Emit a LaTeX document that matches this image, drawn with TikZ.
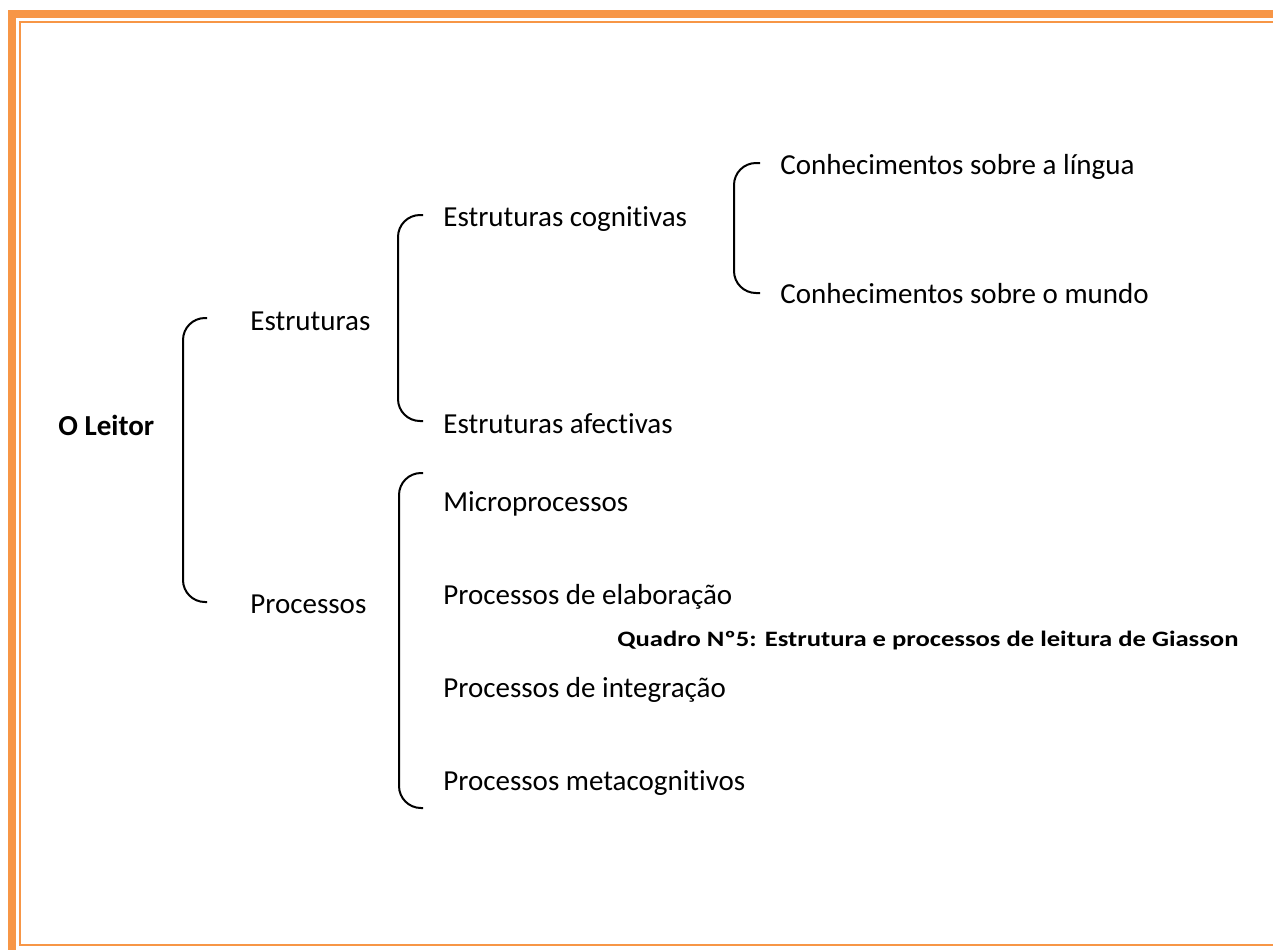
\documentclass[tikz,border=0pt]{standalone}
\usepackage{fontspec}
\setmainfont{Carlito}[Ligatures=NoCommon]
\definecolor{framecol}{HTML}{F79646}
\tikzset{
    item/.style={anchor=base west, inner sep=0pt, font=\fontsize{14.5pt}{17pt}\selectfont},
    bracket/.style={line width=1pt, rounded corners=11pt},
}
\begin{document}
\begin{tikzpicture}[x=5pt, y=-5pt]
                \useasboundingbox (0, 0) rectangle (127.3, 94.9);
                \clip (0, 0) rectangle (127.3, 94.9);

                %%frame
                \draw[framecol, line width=4pt](1.2, 1.4) rectangle (131, 96);
                \draw[framecol, line width=1pt](2.0, 2.2) rectangle (129, 94.5);

                %%reader
                \node[item, font=\fontsize{14.5pt}{17pt}\selectfont\bfseries] (leitor) at (5.8, 43.5){O Leitor};
                    \coordinate (b1t) at (20.7, 31.8);
                    \coordinate (b1c) at (18.3, 46);
                    \coordinate (b1b) at (20.7, 60.2);
                    \draw[bracket](b1t) -| (b1c) |- (b1b);
                    \node[item] (estr) at (25.0, 33.0){Estruturas};
                    \node[item] (proc) at (25.0, 61.3){Processos};

                %%upper subtree
                    \coordinate (b2t) at (42.3, 21.5);
                    \coordinate (b2c) at (39.8, 32);
                    \coordinate (b2b) at (42.3, 42.1);
                    \draw[bracket](b2t) -| (b2c) |- (b2b);
                        \node[item] (cogn) at (44.3, 22.6){Estruturas cognitivas};
                        \node[item] (afec) at (44.3, 43.3){Estruturas afectivas};

                    \coordinate (b3t) at (76.0, 16.3);
                    \coordinate (b3c) at (73.4, 23);
                    \coordinate (b3b) at (76.0, 29.3);
                    \draw[bracket](b3t) -| (b3c) |- (b3b);
                        \node[item] (lingua) at (78.0, 17.4){Conhecimentos sobre a língua};
                        \node[item] (mundo) at (78.0, 30.3){Conhecimentos sobre o mundo};

                %%lower subtree
                    \coordinate (b4t) at (42.3, 47.3);
                    \coordinate (b4c) at (39.9, 64);
                    \coordinate (b4b) at (42.3, 80.8);
                    \draw[bracket](b4t) -| (b4c) |- (b4b);
                        \node[item] (micro) at (44.3, 51.1){Microprocessos};
                        \node[item] (elab) at (44.3, 60.4){Processos de elaboração};
                        \node[item] (integ) at (44.3, 69.7){Processos de integração};
                        \node[item] (meta) at (44.3, 79.0){Processos metacognitivos};

                %%caption
                \node[item, font=\fontsize{11pt}{13pt}\selectfont\bfseries] (quadro) at (61.7, 64.6){\scalebox{1.21}[1]{Quadro Nº5: Estrutura e processos de leitura de Giasson}};
\end{tikzpicture}
\end{document}
